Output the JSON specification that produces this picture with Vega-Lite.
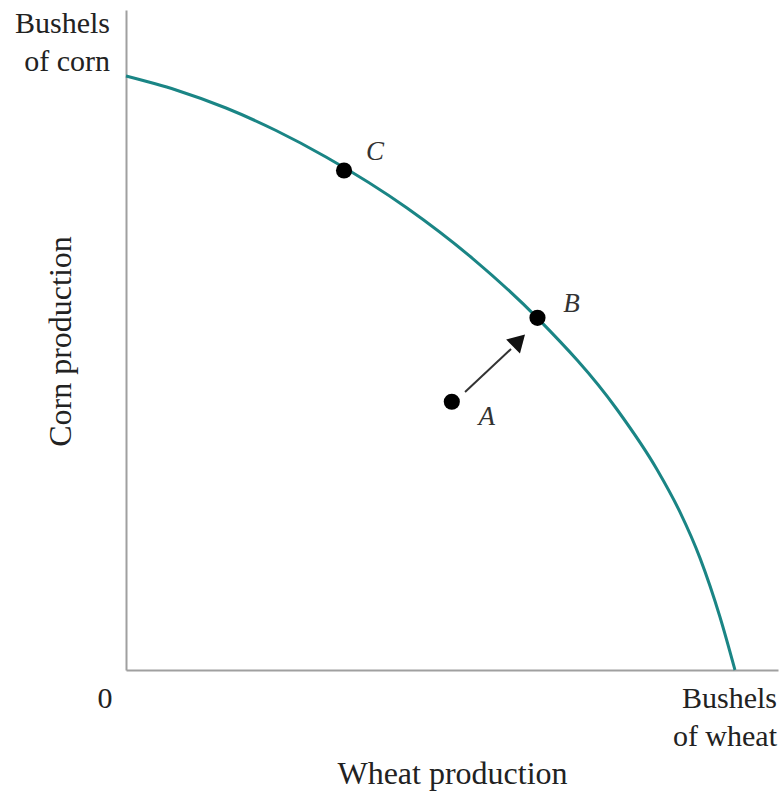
{
  "$schema": "https://vega.github.io/schema/vega-lite/v6.json",
  "width": 652,
  "height": 660,
  "autosize": {"type": "none"},
  "padding": {"left": 126, "top": 10, "right": 5, "bottom": 123},
  "background": "white",
  "config": {"view": {"stroke": null}, "font": "Liberation Serif"},
  "datasets": {
    "frontier": [
      {"wheat": 0, "corn": 90.0},
      {"wheat": 7.67, "corn": 87.88},
      {"wheat": 15.34, "corn": 85.15},
      {"wheat": 23.01, "corn": 81.74},
      {"wheat": 30.67, "corn": 77.73},
      {"wheat": 43.10, "corn": 70.0},
      {"wheat": 53.22, "corn": 62.30},
      {"wheat": 63.19, "corn": 53.24},
      {"wheat": 75.31, "corn": 39.47},
      {"wheat": 81.44, "corn": 30.38},
      {"wheat": 84.97, "corn": 23.92},
      {"wheat": 88.04, "corn": 16.95},
      {"wheat": 91.10, "corn": 8.03},
      {"wheat": 93.40, "corn": 0}
    ],
    "points": [
      {"label": "C", "wheat": 33.44, "corn": 75.68},
      {"label": "B", "wheat": 63.11, "corn": 53.36},
      {"label": "A", "wheat": 49.97, "corn": 40.64}
    ],
    "arrow": [
      {"wheat": 52.0, "corn": 42.12},
      {"wheat": 59.05, "corn": 48.64}
    ],
    "arrowhead": [
      {"wheat": 60.28, "corn": 49.92}
    ],
    "axisLabels": [
      {"which": "corn", "wheat": 0, "corn": 100, "label": "Bushels\nof corn"},
      {"which": "wheat", "wheat": 100, "corn": 0, "label": "Bushels\nof wheat"},
      {"which": "origin", "wheat": 0, "corn": 0, "label": "0"}
    ]
  },
  "encoding": {
    "x": {
      "field": "wheat",
      "type": "quantitative",
      "scale": {"domain": [0, 100], "nice": false, "zero": false},
      "axis": {
        "title": "Wheat production",
        "ticks": false,
        "labels": false,
        "grid": false,
        "domainColor": "#a0a0a0",
        "domainWidth": 2,
        "titleFont": "Liberation Serif",
        "titleFontSize": 32,
        "titleFontWeight": "normal",
        "titleColor": "#222222",
        "titleBaseline": "alphabetic",
        "titleY": 113
      }
    },
    "y": {
      "field": "corn",
      "type": "quantitative",
      "scale": {"domain": [0, 100], "nice": false, "zero": false},
      "axis": {
        "title": "Corn production",
        "ticks": false,
        "labels": false,
        "grid": false,
        "domainColor": "#a0a0a0",
        "domainWidth": 2,
        "titleFont": "Liberation Serif",
        "titleFontSize": 32,
        "titleFontWeight": "normal",
        "titleColor": "#222222",
        "titleBaseline": "alphabetic",
        "titleAngle": -90,
        "titleX": -56,
        "titleY": 331
      }
    }
  },
  "layer": [
    {
      "data": {"name": "frontier"},
      "mark": {"type": "line", "color": "#1a8585", "strokeWidth": 3, "interpolate": "monotone"},
      "encoding": {}
    },
    {
      "data": {"name": "arrow"},
      "mark": {"type": "line", "color": "#333333", "strokeWidth": 2},
      "encoding": {}
    },
    {
      "data": {"name": "arrowhead"},
      "mark": {"type": "point", "shape": "triangle-up", "filled": true, "color": "#111111", "opacity": 1, "size": 380, "angle": 45},
      "encoding": {}
    },
    {
      "data": {"name": "points"},
      "mark": {"type": "circle", "color": "#000000", "opacity": 1, "size": 260},
      "encoding": {}
    },
    {
      "data": {"name": "points"},
      "transform": [{"filter": "datum.label === 'C'"}],
      "mark": {"type": "text", "font": "Liberation Serif", "fontStyle": "italic", "fontSize": 27, "color": "#333333", "align": "center", "baseline": "middle", "dx": 31, "dy": -19},
      "encoding": {"text": {"field": "label", "type": "nominal"}}
    },
    {
      "data": {"name": "points"},
      "transform": [{"filter": "datum.label === 'B'"}],
      "mark": {"type": "text", "font": "Liberation Serif", "fontStyle": "italic", "fontSize": 27, "color": "#333333", "align": "center", "baseline": "middle", "dx": 34, "dy": -14},
      "encoding": {"text": {"field": "label", "type": "nominal"}}
    },
    {
      "data": {"name": "points"},
      "transform": [{"filter": "datum.label === 'A'"}],
      "mark": {"type": "text", "font": "Liberation Serif", "fontStyle": "italic", "fontSize": 27, "color": "#333333", "align": "center", "baseline": "middle", "dx": 35, "dy": 15},
      "encoding": {"text": {"field": "label", "type": "nominal"}}
    },
    {
      "data": {"name": "axisLabels"},
      "transform": [{"filter": "datum.which === 'corn'"}],
      "mark": {"type": "text", "font": "Liberation Serif", "fontSize": 30, "color": "#222222", "align": "right", "baseline": "alphabetic", "lineBreak": "\n", "lineHeight": 38, "dx": -16, "dy": 23},
      "encoding": {"text": {"field": "label", "type": "nominal"}}
    },
    {
      "data": {"name": "axisLabels"},
      "transform": [{"filter": "datum.which === 'wheat'"}],
      "mark": {"type": "text", "font": "Liberation Serif", "fontSize": 30, "color": "#222222", "align": "right", "baseline": "alphabetic", "lineBreak": "\n", "lineHeight": 38, "dx": -1, "dy": 38},
      "encoding": {"text": {"field": "label", "type": "nominal"}}
    },
    {
      "data": {"name": "axisLabels"},
      "transform": [{"filter": "datum.which === 'origin'"}],
      "mark": {"type": "text", "font": "Liberation Serif", "fontSize": 30, "color": "#222222", "align": "center", "baseline": "alphabetic", "dx": -21, "dy": 38},
      "encoding": {"text": {"field": "label", "type": "nominal"}}
    }
  ]
}
